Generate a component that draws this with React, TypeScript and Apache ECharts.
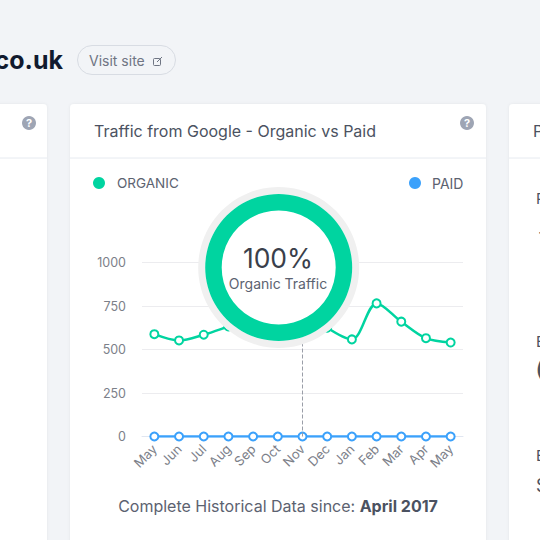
import React, { useEffect, useRef } from "react";
import * as echarts from "echarts";

const months = ["May","Jun","Jul","Aug","Sep","Oct","Nov","Dec","Jan","Feb","Mar","Apr","May "];
const organic = [588,552,585,632,680,720,740,625,558,765,660,565,540];
const paid = [0,0,0,0,0,0,0,0,0,0,0,0,0];
const share = [100];
const FONT = "Inter, 'Noto Sans', sans-serif";
const GREEN = "#00d4a0";
const BLUE = "#3ba1fb";

export default function App() {
  const ref = useRef<HTMLDivElement>(null);
  useEffect(() => {
    document.body.style.margin = "0";
    const chart = echarts.init(ref.current!, null, { renderer: "svg" });
    const txt = (x: number, y: number, text: string, fontSize: number, fill: string, extra: any = {}) => ({
      type: "text", x, y, z: 20, style: { text, fontSize, fill, fontFamily: FONT, verticalAlign: "middle", ...extra },
    });
    const card = (x: number, w: number) => ({
      type: "rect", z: -10, shape: { x, y: 104, width: w, height: 460, r: 4 },
      style: { fill: "#fff", shadowBlur: 3, shadowColor: "rgba(0,0,0,0.06)" },
    });
    const sep = (x1: number, x2: number) => ({
      type: "line", z: -9, shape: { x1, y1: 158, x2, y2: 158 }, style: { stroke: "#e6eaf0", lineWidth: 1 },
    });
    const help = (cx: number, cy: number) => [
      { type: "circle", z: 20, shape: { cx, cy, r: 7 }, style: { fill: "#9ea5b4" } },
      { ...txt(cx, cy, "?", 11, "#fff", { align: "center", fontWeight: 700 }) },
    ];
    chart.setOption({
      animation: false,
      backgroundColor: "#f2f4f7",
      grid: { left: 142, right: 77, top: 262.5, bottom: 103.5, containLabel: false },
      xAxis: {
        type: "category", data: months, boundaryGap: true,
        axisLine: { show: true, lineStyle: { color: "#e0e6f1", width: 1 } },
        axisTick: { show: false },
        axisLabel: { rotate: 45, color: "#7c8089", fontSize: 13, fontFamily: FONT, margin: 10, interval: 0, formatter: (v: string) => v.trim() },
      },
      yAxis: {
        type: "value", min: 0, max: 1000, interval: 250,
        axisLine: { show: false }, axisTick: { show: false },
        axisLabel: { color: "#7c8089", fontSize: 12.5, fontFamily: FONT, margin: 16, formatter: (v: number) => String(v) },
        splitLine: { lineStyle: { color: "#ececef", width: 1 } },
      },
      series: [
        {
          name: "ORGANIC", type: "line", data: organic, smooth: 0.33, z: 3,
          symbol: "circle", symbolSize: 8, showSymbol: true,
          lineStyle: { color: GREEN, width: 2.5 },
          itemStyle: { color: "#fff", borderColor: GREEN, borderWidth: 2 },
          markLine: {
            silent: true, symbol: "none", label: { show: false },
            lineStyle: { color: "#9a9ea8", type: "dashed", width: 1 },
            data: [{ xAxis: "Nov" }],
          },
        },
        {
          name: "PAID", type: "line", data: paid, z: 4,
          symbol: "circle", symbolSize: 8, showSymbol: true,
          lineStyle: { color: BLUE, width: 2.5 },
          itemStyle: { color: "#fff", borderColor: BLUE, borderWidth: 2 },
        },
        {
          type: "pie", z: 10, silent: true, center: [278.7, 267.5], radius: [0, 80.5],
          data: share, label: { show: false }, labelLine: { show: false },
          itemStyle: { color: "#f0f0f0" },
        },
        {
          type: "pie", z: 11, silent: true, center: [278.7, 267.5], radius: [0, 73.5],
          data: share, label: { show: false }, labelLine: { show: false },
          itemStyle: { color: "#fff" },
        },
        {
          type: "pie", z: 12, silent: true, center: [278.7, 267.5], radius: [57, 73.5],
          data: share, label: { show: false }, labelLine: { show: false },
          itemStyle: { color: GREEN },
        },
      ],
      graphic: [
        card(-100, 147), card(70, 416), card(509, 200),
        sep(0, 47), sep(70, 486), sep(509, 540),
        ...help(29, 123), ...help(467, 123),
        txt(63, 60, "co.uk", 25, "#111a2e", { align: "right", fontWeight: 700 }),
        { type: "rect", z: 5, shape: { x: 77.5, y: 45.5, width: 98, height: 29, r: 14.5 }, style: { fill: "#f2f4f7", stroke: "#d8dce3", lineWidth: 1 } },
        txt(89, 60, "Visit site", 14, "#6f7583"),
        { type: "rect", z: 20, shape: { x: 153.5, y: 58.5, width: 7, height: 7, r: 1 }, style: { fill: "none", stroke: "#6f7583", lineWidth: 1 } },
        { type: "line", z: 21, shape: { x1: 157, y1: 62, x2: 162, y2: 57 }, style: { stroke: "#6f7583", lineWidth: 1 } },
        txt(94, 131, "Traffic from Google - Organic vs Paid", 16, "#4b5261"),
        { type: "circle", z: 20, shape: { cx: 99, cy: 183, r: 6 }, style: { fill: GREEN } },
        txt(117, 183, "ORGANIC", 13.5, "#5c6270"),
        { type: "circle", z: 20, shape: { cx: 415, cy: 183, r: 6 }, style: { fill: BLUE } },
        txt(432, 183, "PAID", 14, "#5c6270"),
        txt(278, 258, "100%", 26.5, "#3a3f4b", { align: "center" }),
        txt(278, 283, "Organic Traffic", 14, "#5c6270", { align: "center" }),
        {
          type: "text", x: 278, y: 506, z: 20,
          style: {
            text: "{a|Complete Historical Data since: }{b|April 2017}", align: "center", verticalAlign: "middle",
            rich: {
              a: { fontSize: 16, fill: "#5c6270", fontFamily: FONT },
              b: { fontSize: 16, fill: "#4b5261", fontFamily: FONT, fontWeight: 700 },
            },
          },
        },
        txt(533, 131, "P", 16, "#4b5261"),
        txt(536, 198, "P", 15, "#4b5261"),
        txt(538, 232, "-", 20, "#4b5261"),
        txt(536, 341, "E", 15, "#4b5261"),
        txt(536, 369, "(", 20, "#4b5261", { fontWeight: 700 }),
        txt(536, 455, "E", 15, "#4b5261"),
        txt(536, 485, "$", 18, "#4b5261"),
      ],
    });
    return () => chart.dispose();
  }, []);
  return <div ref={ref} style={{ width: 540, height: 540 }} />;
}
